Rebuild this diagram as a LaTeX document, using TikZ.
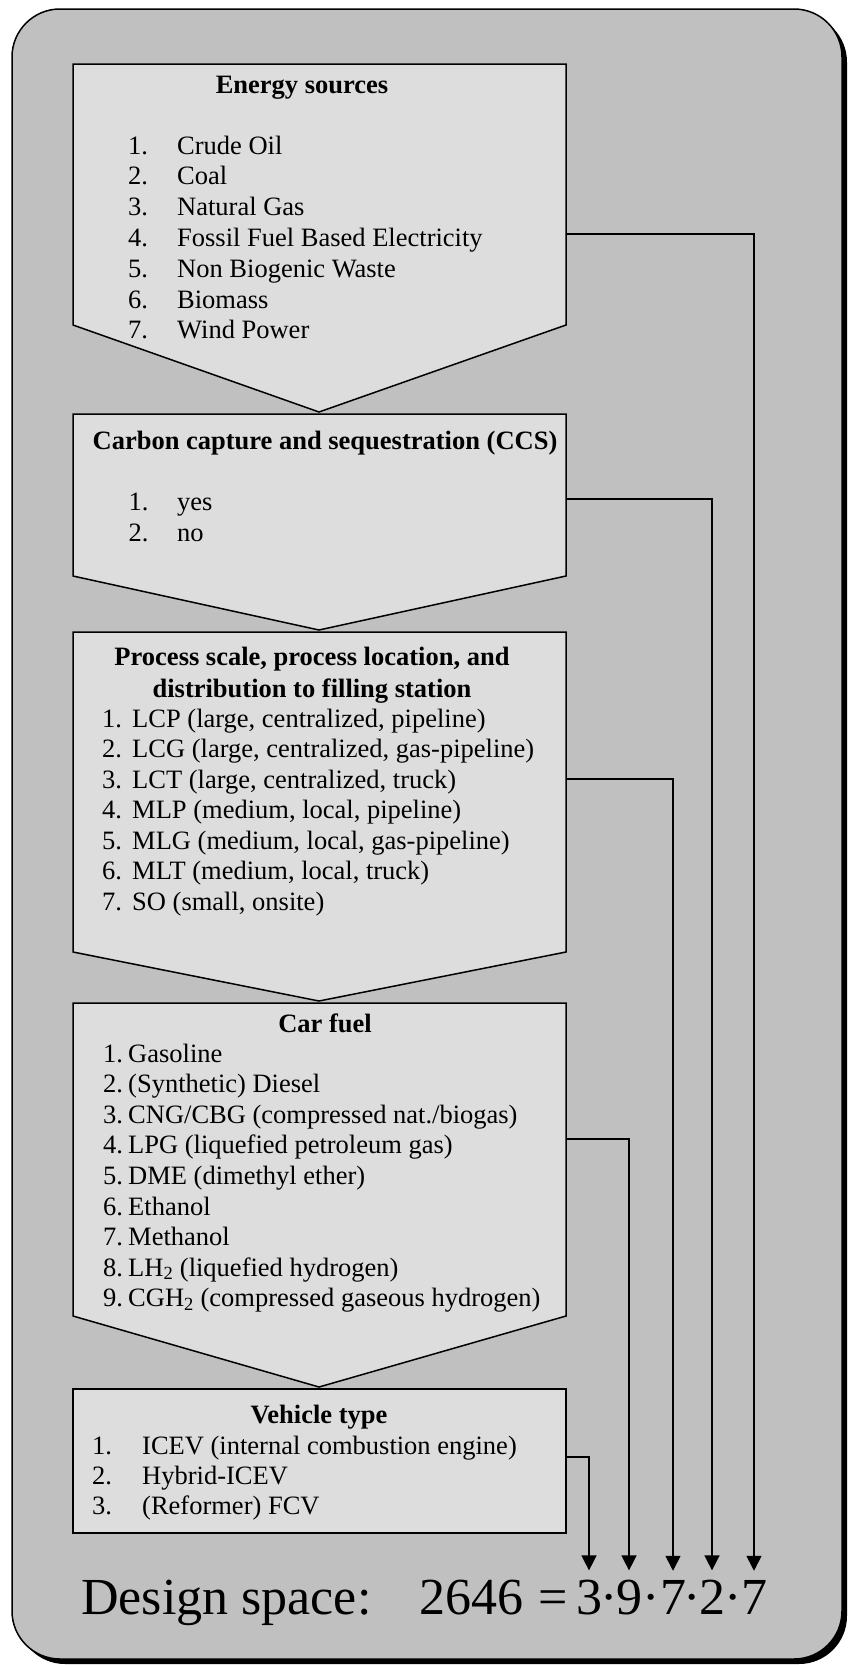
\documentclass[tikz,border=0pt]{standalone}
\usepackage{fontspec}
\setmainfont{Liberation Serif}
\usetikzlibrary{arrows.meta}
\definecolor{outerfill}{gray}{0.753}
\definecolor{boxfill}{gray}{0.867}
\tikzset{
  stagebox/.style={draw=black, line width=1.5pt, fill=boxfill, line join=miter},
  conn/.style={draw=black, line width=1.5pt, -{Triangle[length=15pt,width=15pt]}, shorten >=9pt},
  ttl/.style={anchor=base, inner sep=0pt, font=\fontsize{26.5}{32}\selectfont\bfseries},
  lst/.style={anchor=base west, inner sep=0pt, font=\fontsize{26.5}{#1}\selectfont},
  lst/.default=30.7,
  big/.style={anchor=base, inner sep=0pt, font=\fontsize{52}{60}\selectfont},
}
\newcommand\Lst[1]{\begin{tabular}[t]{@{}l@{}}#1\end{tabular}}
\begin{document}
\begin{tikzpicture}[x=1pt,y=-1pt]
\useasboundingbox (0,0) rectangle (847,1665);
% outer panel with shadow
\fill[black, rounded corners=48pt] (17,14) rectangle (847,1664);
\draw[fill=outerfill, line width=1.5pt, rounded corners=48pt] (12,9) rectangle (842,1659);

% stage shapes
\draw[stagebox] (73,64) -- (566,64) -- (566,325) -- (319,412) -- (73,325) -- cycle;
\draw[stagebox] (73,414) -- (566,414) -- (566,576) -- (319,630) -- (73,576) -- cycle;
\draw[stagebox] (73,632) -- (566,632) -- (566,952) -- (319,1001) -- (73,952) -- cycle;
\draw[stagebox] (73,1003) -- (566,1003) -- (566,1316) -- (319,1387) -- (73,1316) -- cycle;
\draw[stagebox] (73,1389) rectangle (566,1533);

% box 1
\node[ttl] (t1) at (302,93) {Energy sources};
\node[lst=30.8] (n1) at (128,154) {\Lst{1.\\2.\\3.\\4.\\5.\\6.\\7.}};
\node[lst=30.8] (i1) at (177,154) {\Lst{Crude Oil\\Coal\\Natural Gas\\Fossil Fuel Based Electricity\\Non Biogenic Waste\\Biomass\\Wind Power}};

% box 2
\node[ttl] (t2) at (325,449) {Carbon capture and sequestration (CCS)};
\node[lst=31] (n2) at (128.5,510) {\Lst{1.\\2.}};
\node[lst=31] (i2) at (177,510) {\Lst{yes\\no}};

% box 3
\node[ttl] (t3a) at (312,665) {Process scale, process location, and};
\node[ttl] (t3b) at (312,697) {distribution to filling station};
\node[lst=30.5] (n3) at (102,727) {\Lst{1.\\2.\\3.\\4.\\5.\\6.\\7.}};
\node[lst=30.5] (i3) at (132,727) {\Lst{LCP (large, centralized, pipeline)\\LCG (large, centralized, gas-pipeline)\\LCT (large, centralized, truck)\\MLP (medium, local, pipeline)\\MLG (medium, local, gas-pipeline)\\MLT (medium, local, truck)\\SO (small, onsite)}};

% box 4
\node[ttl] (t4) at (325,1032) {Car fuel};
\node[lst=30.6] (n4) at (103,1062) {\Lst{1.\\2.\\3.\\4.\\5.\\6.\\7.\\8.\\9.}};
\node[lst=30.6] (i4) at (128,1062) {\Lst{Gasoline\\(Synthetic) Diesel\\CNG/CBG (compressed nat./biogas)\\LPG (liquefied petroleum gas)\\DME (dimethyl ether)\\Ethanol\\Methanol\\LH\textsubscript{2} (liquefied hydrogen)\\CGH\textsubscript{2} (compressed gaseous hydrogen)}};

% box 5
\node[ttl] (t5) at (319,1423) {Vehicle type};
\node[lst=30] (n5) at (92,1454) {\Lst{1.\\2.\\3.}};
\node[lst=30] (i5) at (142,1454) {\Lst{ICEV (internal combustion engine)\\Hybrid-ICEV\\(Reformer) FCV}};

% design space formula
\node[big, anchor=base west] (ds) at (81,1614) {Design space:};
\node[big, anchor=base west] (tot) at (419,1614) {2646};
\node[big] (eq) at (553,1614) {=};
\node[big] (d1) at (589,1614) {3};
\node[big] (p1) at (609,1614) {·};
\node[big] (d2) at (629,1614) {9};
\node[big] (p2) at (651,1614) {·};
\node[big] (d3) at (673,1614) {7};
\node[big] (p3) at (692.5,1614) {·};
\node[big] (d4) at (712,1614) {2};
\node[big] (p4) at (733,1614) {·};
\node[big] (d5) at (754,1614) {7};

% connector starts on the right edges of the stages
\coordinate (s1) at (566,234);
\coordinate (s2) at (566,499);
\coordinate (s3) at (566,779);
\coordinate (s4) at (566,1139);
\coordinate (s5) at (566,1457);

\draw[conn] (s1) -| (d5.north);
\draw[conn] (s2) -| (d4.north);
\draw[conn] (s3) -| (d3.north);
\draw[conn] (s4) -| (d2.north);
\draw[conn] (s5) -| (d1.north);
\end{tikzpicture}
\end{document}
